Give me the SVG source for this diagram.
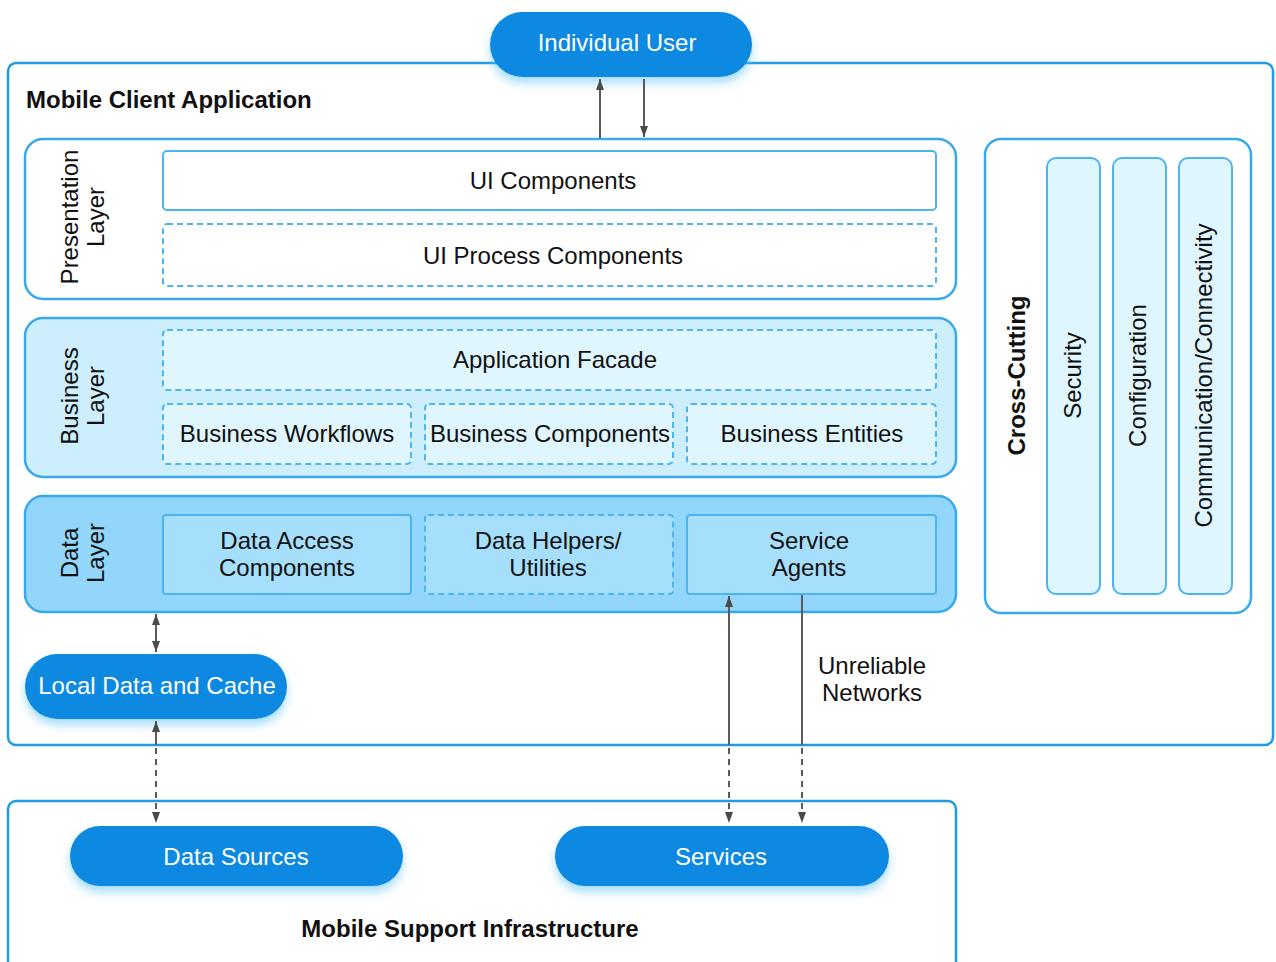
<svg xmlns="http://www.w3.org/2000/svg" width="1276" height="962" viewBox="0 0 1276 962">
<style>
text{font-family:"Liberation Sans",Arial,sans-serif;font-size:24px;fill:#111}
.b{font-weight:bold}
.c{text-anchor:middle}
.w{fill:#fff}
.frame{fill:#fff;stroke:#1f9be6;stroke-width:2.5}
.layer{stroke:#3aa9ec;stroke-width:2.5}
.inner{stroke:#4cb4ee;stroke-width:2}
.dash{stroke-dasharray:6 4}
.pill{fill:#0889e1;filter:url(#glow)}
.con{stroke:#5a5a5a;stroke-width:2;fill:none}
.cd{stroke-dasharray:6 5}
</style>
<defs>
<filter id="glow" x="-20%" y="-30%" width="140%" height="180%">
<feDropShadow dx="0" dy="6" stdDeviation="5" flood-color="#5cc3f5" flood-opacity="0.55"/>
</filter>
<marker id="ah" viewBox="0 0 11 8" markerUnits="userSpaceOnUse" markerWidth="11" markerHeight="8" refX="11" refY="4" orient="auto-start-reverse">
<path d="M0,0 L11,4 L0,8 z" fill="#4a4a4a"/>
</marker>
</defs>

<g id="mobile-client">
<rect class="frame" x="8" y="63" width="1265" height="682" rx="8"/>
<text class="b" x="26" y="108">Mobile Client Application</text>
</g>

<g id="support-infra">
<rect class="frame" x="8" y="801" width="948" height="200" rx="8"/>
<text class="b c" x="470" y="937">Mobile Support Infrastructure</text>
</g>

<g id="presentation-layer">
<rect class="layer" x="25" y="139" width="931" height="160" rx="18" fill="#fff"/>
<text class="c" transform="translate(78,217) rotate(-90)"><tspan x="0" y="0">Presentation</tspan><tspan x="0" y="26">Layer</tspan></text>
</g>
<g id="ui-components">
<rect class="inner" x="163" y="151" width="773" height="59" rx="4" fill="#fff"/>
<text class="c" x="553" y="189">UI Components</text>
</g>
<g id="ui-process-components">
<rect class="inner dash" x="163" y="224" width="773" height="62" rx="4" fill="#fff"/>
<text class="c" x="553" y="264">UI Process Components</text>
</g>

<g id="business-layer">
<rect class="layer" x="25" y="318" width="931" height="159" rx="18" fill="#cdeefd"/>
<text class="c" transform="translate(78,396) rotate(-90)"><tspan x="0" y="0">Business</tspan><tspan x="0" y="26">Layer</tspan></text>
</g>
<g id="application-facade">
<rect class="inner dash" x="163" y="330" width="773" height="60" rx="4" fill="#e0f6fe"/>
<text class="c" x="555" y="368">Application Facade</text>
</g>
<g id="business-workflows">
<rect class="inner dash" x="163" y="404" width="248" height="60" rx="4" fill="#e0f6fe"/>
<text class="c" x="287" y="442">Business Workflows</text>
</g>
<g id="business-components">
<rect class="inner dash" x="425" y="404" width="248" height="60" rx="4" fill="#e0f6fe"/>
<text class="c" x="550" y="442">Business Components</text>
</g>
<g id="business-entities">
<rect class="inner dash" x="687" y="404" width="249" height="60" rx="4" fill="#e0f6fe"/>
<text class="c" x="812" y="442">Business Entities</text>
</g>

<g id="data-layer">
<rect class="layer" x="25" y="496" width="931" height="116" rx="18" fill="#92d6fb"/>
<text class="c" transform="translate(78,553) rotate(-90)"><tspan x="0" y="0">Data</tspan><tspan x="0" y="26">Layer</tspan></text>
</g>
<g id="data-access-components">
<rect class="inner" x="163" y="515" width="248" height="79" rx="3" fill="#a6dffc" stroke="#39a8ec"/>
<text class="c" x="287" y="549"><tspan x="287" y="549">Data Access</tspan><tspan x="287" y="576">Components</tspan></text>
</g>
<g id="data-helpers">
<rect class="inner dash" x="425" y="515" width="248" height="79" rx="3" fill="#a6dffc" stroke="#39a8ec"/>
<text class="c"><tspan x="548" y="549">Data Helpers/</tspan><tspan x="548" y="576">Utilities</tspan></text>
</g>
<g id="service-agents">
<rect class="inner" x="687" y="515" width="249" height="79" rx="3" fill="#a6dffc" stroke="#39a8ec"/>
<text class="c"><tspan x="809" y="549">Service</tspan><tspan x="809" y="576">Agents</tspan></text>
</g>

<g id="cross-cutting">
<rect class="layer" x="985" y="139" width="266" height="474" rx="16" fill="#fff"/>
<text class="b c" transform="translate(1025,375.5) rotate(-90)">Cross-Cutting</text>
</g>
<g id="security">
<rect class="inner" x="1047" y="158" width="53" height="436" rx="9" fill="#e0f6fe"/>
<text class="c" transform="translate(1081,375.5) rotate(-90)">Security</text>
</g>
<g id="configuration">
<rect class="inner" x="1113" y="158" width="53" height="436" rx="9" fill="#e0f6fe"/>
<text class="c" transform="translate(1146,375.5) rotate(-90)">Configuration</text>
</g>
<g id="communication">
<rect class="inner" x="1179" y="158" width="53" height="436" rx="9" fill="#e0f6fe"/>
<text class="c" transform="translate(1212,375.5) rotate(-90)">Communication/Connectivity</text>
</g>

<g id="individual-user">
<rect class="pill" x="490" y="12" width="262" height="65" rx="32.5"/>
<text class="c w" x="617" y="51">Individual User</text>
</g>
<g id="local-data-cache">
<rect class="pill" x="25" y="654" width="262" height="65" rx="32.5"/>
<text class="c w" x="157" y="694">Local Data and Cache</text>
</g>
<g id="data-sources">
<rect class="pill" x="70" y="826" width="333" height="60" rx="30"/>
<text class="c w" x="236" y="865">Data Sources</text>
</g>
<g id="services">
<rect class="pill" x="555" y="826" width="334" height="60" rx="30"/>
<text class="c w" x="721" y="865">Services</text>
</g>

<g id="connectors">
<path class="con" d="M600,138 V79" marker-end="url(#ah)"/>
<path class="con" d="M644,79 V137" marker-end="url(#ah)"/>
<path class="con" d="M156,614 V652" marker-start="url(#ah)" marker-end="url(#ah)"/>
<path class="con" d="M156,745 V721" marker-end="url(#ah)"/>
<path class="con cd" d="M156,748 V823" marker-end="url(#ah)"/>
<path class="con" d="M729,745 V596" marker-end="url(#ah)"/>
<path class="con cd" d="M729,748 V823" marker-end="url(#ah)"/>
<path class="con" d="M802,595 V745"/>
<path class="con cd" d="M802,748 V823" marker-end="url(#ah)"/>
</g>
<g id="label-unreliable">
<text class="c"><tspan x="872" y="674">Unreliable</tspan><tspan x="872" y="701">Networks</tspan></text>
</g>
</svg>
